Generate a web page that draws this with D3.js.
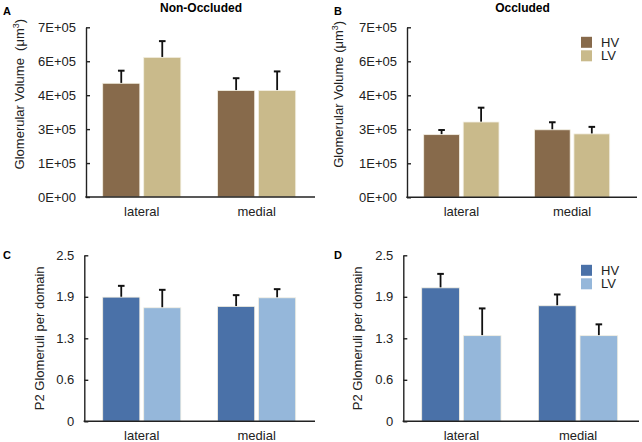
<!DOCTYPE html>
<html>
<head>
<meta charset="utf-8">
<script src="https://cdn.jsdelivr.net/npm/d3@7"></script>
<style>
  body { margin: 0; background: #fff; }
  svg { display: block; font-family: Arial, "Liberation Sans", sans-serif; }
</style>
</head>
<body>
<svg id="fig" width="642" height="442"></svg>
<script>
// categories and series
const regions = ['lateral', 'medial'];
const groups = ['HV', 'LV'];

// glomerular volume (um^3)
const volNonHV = [4.69e5, 4.39e5];
const volNonHVErr = [0.52e5, 0.51e5];
const volNonLV = [5.76e5, 4.39e5];
const volNonLVErr = [0.67e5, 0.79e5];
const volOccHV = [2.58e5, 2.78e5];
const volOccHVErr = [0.19e5, 0.31e5];
const volOccLV = [3.10e5, 2.61e5];
const volOccLVErr = [0.59e5, 0.29e5];

// P2 glomeruli per domain
const p2NonHV = [1.87, 1.73];
const p2NonHVErr = [0.17, 0.17];
const p2NonLV = [1.71, 1.86];
const p2NonLVErr = [0.27, 0.13];
const p2OccHV = [2.01, 1.74];
const p2OccHVErr = [0.21, 0.17];
const p2OccLV = [1.29, 1.29];
const p2OccLVErr = [0.41, 0.17];

// axis ticks
const volMax = 7e5;
const volTickLabels = ['0E+00', '1E+05', '3E+05', '4E+05', '6E+05', '7E+05'];
const p2Max = 2.5;
const p2TickLabels = ['0', '0.6', '1.3', '1.9', '2.5'];

const brown = ['#876a4b', '#c9ba8b'];
const blue = ['#4a71a8', '#95b7da'];

const svg = d3.select('#fig');

const panels = [
  { letter: 'A', title: 'Non-Occluded', ytitle: 'Glomerular Volume  (\u03bcm', sup: true,
    hv: volNonHV, hvErr: volNonHVErr, lv: volNonLV, lvErr: volNonLVErr,
    max: volMax, labels: volTickLabels, colors: brown, legend: false,
    x0: 86, x1: 315, y0: 197, y1: 27.3, g0: 102.7, g1: 295.7, ytx: 24, lx: 3, ly: 15 },
  { letter: 'B', title: 'Occluded', ytitle: 'Glomerular Volume (\u03bcm', sup: true,
    hv: volOccHV, hvErr: volOccHVErr, lv: volOccLV, lvErr: volOccLVErr,
    max: volMax, labels: volTickLabels, colors: brown, legend: true,
    x0: 407, x1: 637, y0: 197.3, y1: 27.3, g0: 423.7, g1: 609.7, ytx: 343, lx: 334, ly: 15 },
  { letter: 'C', title: '', ytitle: 'P2 Glomeruli per domain', sup: false,
    hv: p2NonHV, hvErr: p2NonHVErr, lv: p2NonLV, lvErr: p2NonLVErr,
    max: p2Max, labels: p2TickLabels, colors: blue, legend: false,
    x0: 84.3, x1: 315, y0: 421.3, y1: 255.3, g0: 102.7, g1: 295.7, ytx: 44, lx: 3, ly: 259 },
  { letter: 'D', title: '', ytitle: 'P2 Glomeruli per domain', sup: false,
    hv: p2OccHV, hvErr: p2OccHVErr, lv: p2OccLV, lvErr: p2OccLVErr,
    max: p2Max, labels: p2TickLabels, colors: blue, legend: true,
    x0: 403.3, x1: 639, y0: 421.3, y1: 255.3, g0: 421.7, g1: 617.7, ytx: 362, lx: 334, ly: 259 }
];

panels.forEach(p => {
  const g = svg.append('g');
  const n = p.labels.length - 1;
  const ticks = d3.range(n + 1).map(i => p.max * i / n);

  const y = d3.scaleLinear().domain([0, p.max]).range([p.y0, p.y1]);
  const x = d3.scaleBand().domain(regions).range([p.g0, p.g1]).paddingInner(0.32);
  const xs = d3.scaleBand().domain(groups).range([0, x.bandwidth()]).paddingInner(0.095);

  const rows = [];
  regions.forEach((r, i) => {
    rows.push({ r: r, s: 'HV', v: p.hv[i], e: p.hvErr[i] });
    rows.push({ r: r, s: 'LV', v: p.lv[i], e: p.lvErr[i] });
  });

  // error bars (upper only)
  rows.forEach(d => {
    const cx = x(d.r) + xs(d.s) + xs.bandwidth() / 2;
    g.append('line')
      .attr('x1', cx).attr('x2', cx)
      .attr('y1', y(d.v)).attr('y2', y(d.v + d.e))
      .attr('stroke', '#111').attr('stroke-width', 1.8);
    g.append('line')
      .attr('x1', cx - 3.3).attr('x2', cx + 3.3)
      .attr('y1', y(d.v + d.e)).attr('y2', y(d.v + d.e))
      .attr('stroke', '#111').attr('stroke-width', 2);
  });

  g.selectAll('rect.bar')
    .data(rows)
    .enter().append('rect')
    .attr('class', 'bar')
    .attr('x', d => x(d.r) + xs(d.s))
    .attr('width', xs.bandwidth())
    .attr('y', d => y(d.v))
    .attr('height', d => y(0) - y(d.v))
    .attr('fill', d => p.colors[groups.indexOf(d.s)])
    .attr('stroke', '#f3efe2')
    .attr('stroke-width', 0.8);

  // y axis
  const yAxis = d3.axisLeft(y)
    .tickValues(ticks)
    .tickFormat((d, i) => p.labels[i])
    .tickSizeInner(-4)
    .tickSizeOuter(0)
    .tickPadding(10);
  const ya = g.append('g')
    .attr('transform', `translate(${p.x0},0)`)
    .call(yAxis);
  ya.selectAll('path, line').attr('stroke', '#222').attr('stroke-width', 1.4);
  ya.selectAll('text').attr('font-size', 13).attr('fill', '#222');

  // x axis line and labels
  g.append('line')
    .attr('x1', p.x0 - 0.7).attr('x2', p.x1)
    .attr('y1', p.y0).attr('y2', p.y0)
    .attr('stroke', '#222').attr('stroke-width', 1.4);
  regions.forEach(r => {
    g.append('text')
      .attr('x', x(r) + x.bandwidth() / 2)
      .attr('y', p.y0 + 19)
      .attr('text-anchor', 'middle')
      .attr('font-size', 13)
      .attr('fill', '#222')
      .text(r);
  });

  // y title
  const yt = g.append('text')
    .attr('transform', `translate(${p.ytx},${(p.y0 + p.y1) / 2 + (p.sup ? -18 : 0)}) rotate(-90)`)
    .attr('text-anchor', 'middle')
    .attr('font-size', 13)
    .attr('fill', '#222')
    .style('white-space', 'pre')
    .text(p.ytitle);
  if (p.sup) {
    yt.append('tspan').attr('font-size', 9).attr('dy', -5).text('3');
    yt.append('tspan').attr('dy', 5).text(')');
  }

  // panel letter and title
  g.append('text')
    .attr('x', p.lx).attr('y', p.ly)
    .attr('font-size', 11).attr('font-weight', 'bold')
    .text(p.letter);
  if (p.title) {
    g.append('text')
      .attr('x', (p.x0 + p.x1) / 2 + 0.5).attr('y', 11.5)
      .attr('text-anchor', 'middle')
      .attr('font-size', 12).attr('font-weight', 'bold')
      .text(p.title);
  }

  // legend
  if (p.legend) {
    groups.forEach((s, i) => {
      const ly = p.y1 + 9.5 + i * 13.5;
      g.append('rect')
        .attr('x', 581).attr('y', ly)
        .attr('width', 11).attr('height', 11)
        .attr('fill', p.colors[i]);
      g.append('text')
        .attr('x', 601).attr('y', ly + 10)
        .attr('font-size', 13)
        .attr('fill', '#222')
        .text(s);
    });
  }
});
</script>
</body>
</html>
